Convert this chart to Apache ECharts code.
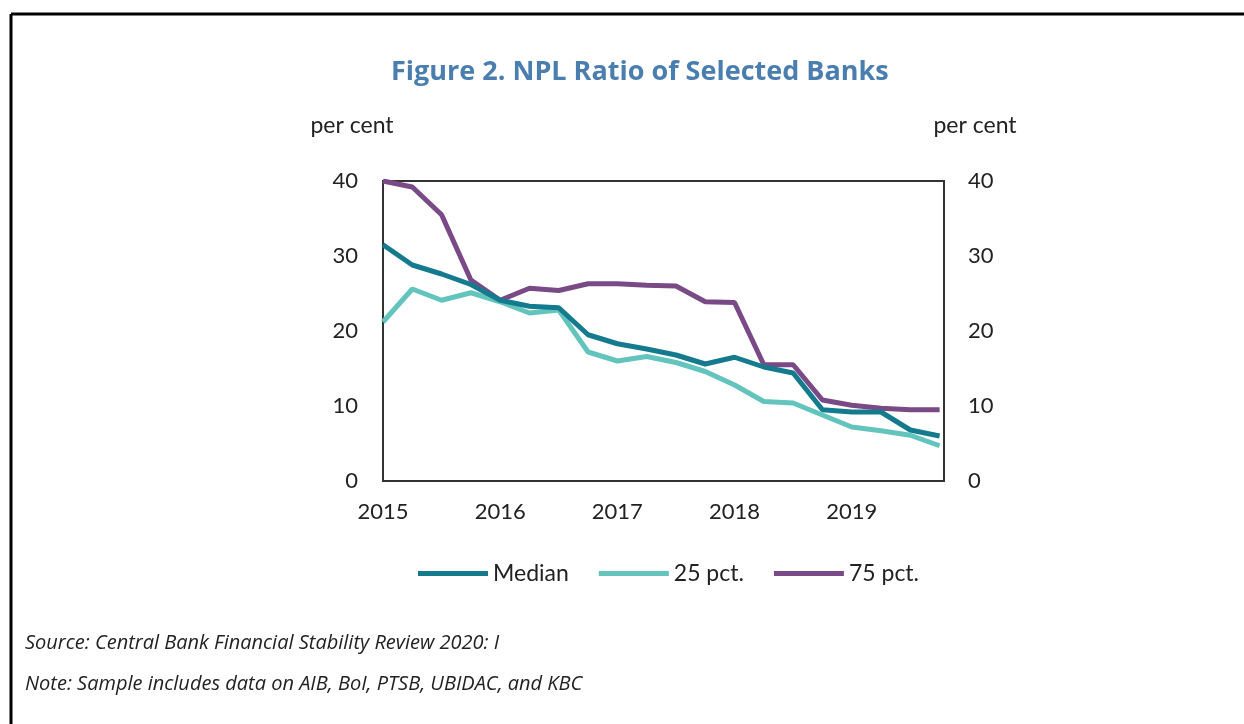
<!DOCTYPE html>
<html>
<head>
<meta charset="utf-8">
<script src="https://cdn.jsdelivr.net/npm/echarts@6/dist/echarts.min.js"></script>
<style>
html,body{margin:0;padding:0;background:#fff;}
#c{width:1244px;height:724px;}
</style>
</head>
<body>
<div id="c"></div>
<script>
var years = ['2015','2016','2017','2018','2019'];
var quarters = [0,1,2,3,4,5,6,7,8,9,10,11,12,13,14,15,16,17,18,19];
var median = [31.5,28.8,27.6,26.2,24.1,23.3,23.1,19.5,18.3,17.6,16.8,15.6,16.5,15.2,14.4,9.5,9.2,9.2,6.8,6.0];
var pct25 = [21.2,25.6,24.1,25.1,23.9,22.4,22.8,17.2,16.0,16.6,15.8,14.6,12.8,10.6,10.4,8.8,7.2,6.7,6.1,4.7];
var pct75 = [40.0,39.2,35.5,26.8,24.1,25.7,25.4,26.3,26.3,26.1,26.0,23.9,23.8,15.5,15.5,10.8,10.1,9.7,9.5,9.5];
var yTicks = [0,10,20,30,40];

function pairs(arr){ return arr.map(function(v,i){ return [quarters[i], v]; }); }

var chart = echarts.init(document.getElementById('c'));
var labelFont = {fontFamily:'Lato', fontSize:22, color:'#222'};
chart.setOption({
  animation:false,
  title:{
    text:'Figure 2. NPL Ratio of Selected Banks',
    left:386, top:54,
    textStyle:{fontFamily:'Open Sans', fontWeight:'bold', fontSize:27, color:'#4a7eaf'}
  },
  grid:{left:383, right:300, top:181, bottom:243, show:true, borderColor:'#333', borderWidth:2},
  legend:{
    left:413, top:557,
    itemWidth:70, itemHeight:5, itemGap:30,
    icon:'rect',
    textStyle:{fontFamily:'Lato', fontSize:23, color:'#222'},
    data:['Median','25 pct.','75 pct.']
  },
  xAxis:{
    type:'value', min:0, max:19.15, interval:4,
    axisLine:{show:true, lineStyle:{color:'#333', width:2}},
    axisTick:{show:false}, splitLine:{show:false},
    axisLabel:Object.assign({margin:20, formatter:function(v){ var k=v/4; return (Number.isInteger(k) && years[k]) ? years[k] : ''; }}, labelFont)
  },
  yAxis:[
    {type:'value', min:0, max:40, interval:10, position:'left',
     axisLine:{show:true, lineStyle:{color:'#333', width:2}}, axisTick:{show:false}, splitLine:{show:false},
     axisLabel:Object.assign({margin:25}, labelFont),
     name:'per cent', nameLocation:'end', nameGap:44, nameTextStyle:{fontFamily:'Lato', fontSize:23, color:'#222', align:'center', padding:[0,62,0,0]}},
    {type:'value', min:0, max:40, interval:10, position:'right',
     axisLine:{show:true, lineStyle:{color:'#333', width:2}}, axisTick:{show:false}, splitLine:{show:false},
     axisLabel:Object.assign({margin:24}, labelFont),
     name:'per cent', nameLocation:'end', nameGap:44, nameTextStyle:{fontFamily:'Lato', fontSize:23, color:'#222', align:'center', padding:[0,0,0,62]}}
  ],
  series:[
    {name:'Median', type:'line', data:pairs(median), showSymbol:false, lineStyle:{width:5, color:'#147b8e'}, itemStyle:{color:'#147b8e'}, z:4},
    {name:'25 pct.', type:'line', data:pairs(pct25), showSymbol:false, lineStyle:{width:5, color:'#62c4bd'}, itemStyle:{color:'#62c4bd'}, z:3},
    {name:'75 pct.', type:'line', data:pairs(pct75), showSymbol:false, lineStyle:{width:5, color:'#7a4a87'}, itemStyle:{color:'#7a4a87'}, z:2}
  ],
  graphic:[
    {type:'line', shape:{x1:11, y1:14, x2:1244, y2:14}, style:{stroke:'#000', lineWidth:3}},
    {type:'line', shape:{x1:11, y1:14, x2:11, y2:724}, style:{stroke:'#000', lineWidth:3}},
    {type:'text', left:25, top:633, style:{text:'Source: Central Bank Financial Stability Review 2020: I', font:'italic 20px "Open Sans"', fill:'#222'}},
    {type:'text', left:25, top:674, style:{text:'Note: Sample includes data on AIB, BoI, PTSB, UBIDAC, and KBC', font:'italic 20px "Open Sans"', fill:'#222'}}
  ]
});
</script>
</body>
</html>
